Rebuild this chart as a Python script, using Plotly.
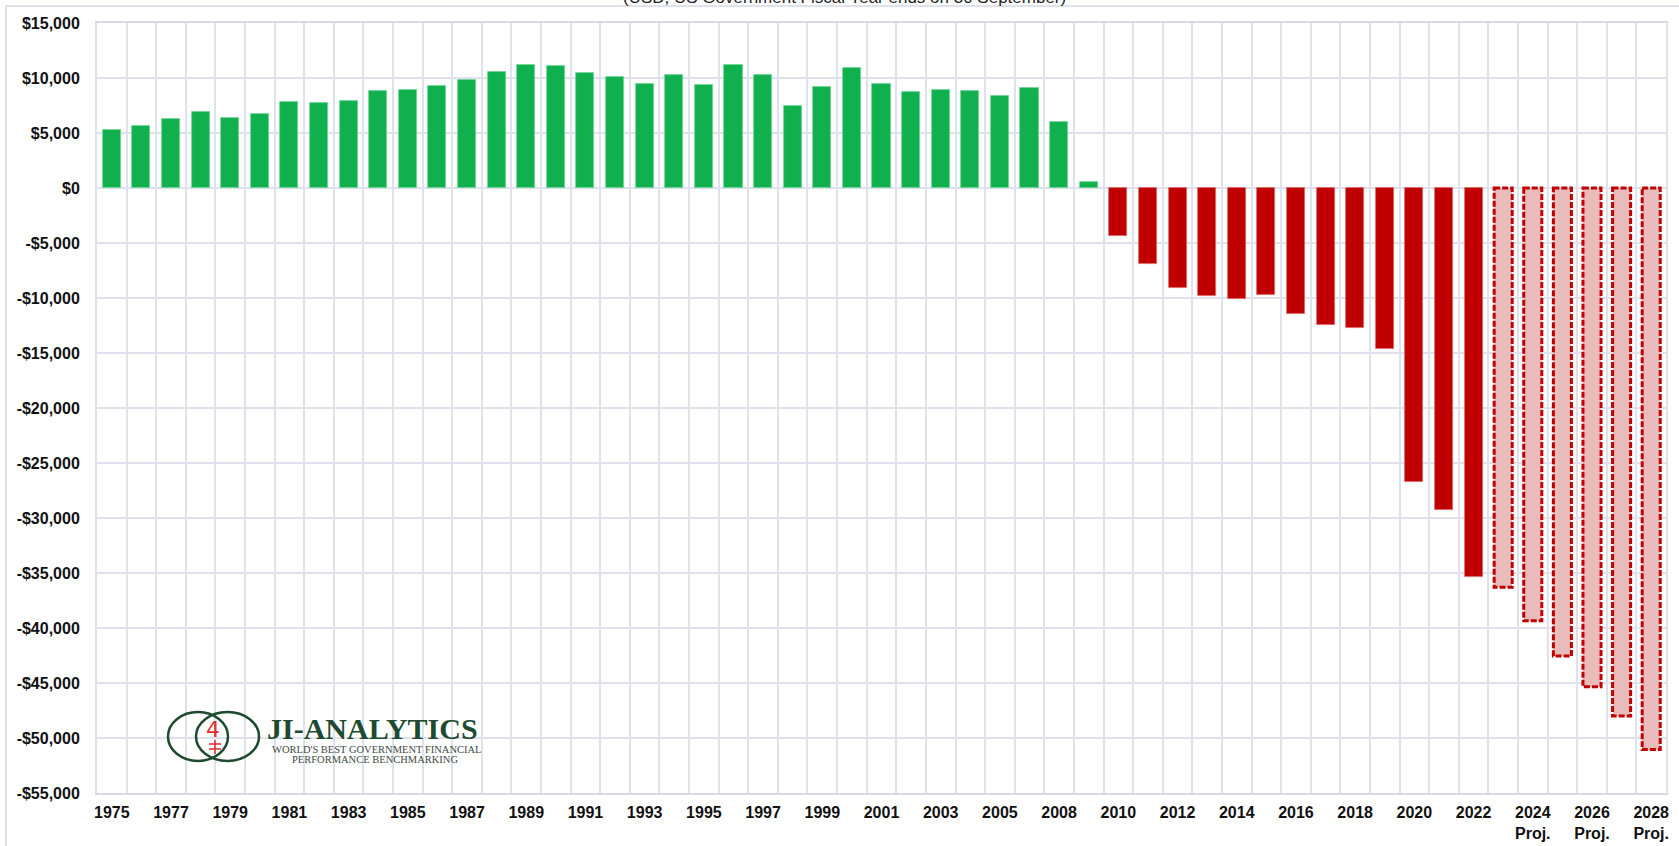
import plotly.graph_objects as go

# ---------------- data ----------------
actual_years = ["1975", "1976", "1977", "1978", "1979", "1980", "1981", "1982", "1983", "1984",
                "1985", "1986", "1987", "1988", "1989", "1990", "1991", "1992", "1993", "1994",
                "1995", "1996", "1997", "1998", "1999", "2000", "2001", "2002", "2003", "2004",
                "2005", "2006", "2008", "2009", "2010", "2011", "2012", "2013", "2014", "2015",
                "2016", "2017", "2018", "2019", "2020", "2021", "2022"]
actual_values = [5300, 5600, 6300, 6900, 6350, 6700, 7800, 7700, 7900, 8850,
                 8950, 9250, 9800, 10550, 11150, 11050, 10450, 10050, 9500, 10250,
                 9400, 11150, 10250, 7450, 9200, 10950, 9500, 8700, 8950, 8800,
                 8350, 9050, 6000, 550, -4400, -6950, -9100, -9800, -10050, -9750,
                 -11450, -12450, -12750, -14600, -26750, -29300, -35400]
proj_years = ["2023", "2024", "2025", "2026", "2027", "2028"]
proj_values = [-36300, -39350, -42550, -45350, -48000, -51050]
proj_suffix = "Proj."

title_text = "(USD, US Government Fiscal Year ends on 30 September)"
y_ticks = list(range(-55000, 15001, 5000))

GREEN = "#11B04E"
RED = "#C00000"
PINK = "#E9BBBB"
GRID = "#DFE2EC"
LOGO_GREEN = "#1E4A2F"

n_act = len(actual_years)
act_x = list(range(n_act))
proj_x = list(range(n_act, n_act + len(proj_years)))
all_labels = actual_years + [f"{y}<br>{proj_suffix}" for y in proj_years]
all_x = act_x + proj_x

BAR_W = 0.61

fig = go.Figure()
fig.add_trace(go.Bar(
    x=act_x, y=actual_values, width=BAR_W,
    marker=dict(color=[GREEN if v >= 0 else RED for v in actual_values],
                line=dict(color=["#6FD596" if v >= 0 else "#D86A6A" for v in actual_values], width=0.8)),
    hoverinfo="x+y", showlegend=False))
fig.add_trace(go.Bar(
    x=proj_x, y=proj_values, width=BAR_W,
    marker=dict(color=PINK, line=dict(width=0)),
    showlegend=False))

shapes = []
# dashed outlines for projected bars (derived from the data)
for xi, v in zip(proj_x, proj_values):
    shapes.append(dict(type="rect", xref="x", yref="y",
                       x0=xi - BAR_W / 2, x1=xi + BAR_W / 2, y0=0, y1=v,
                       line=dict(color=RED, width=3, dash="6px,2px"),
                       fillcolor="rgba(0,0,0,0)", layer="above"))

# pixel helpers for decorations
L, R, T, B = 97, 1666, 23, 793
def px(x):
    return (x - L) / (R - L)
def py(y):
    return (B - y) / (B - T)

# outer frame
shapes.append(dict(type="line", xref="paper", yref="paper", x0=px(6), x1=px(1690), y0=py(6), y1=py(6),
                   line=dict(color=GRID, width=2), layer="below"))
shapes.append(dict(type="line", xref="paper", yref="paper", x0=px(6), x1=px(6), y0=py(6), y1=py(860),
                   line=dict(color=GRID, width=2), layer="below"))

# logo ellipses
shapes.append(dict(type="circle", xref="paper", yref="paper", x0=px(168), x1=px(228), y0=py(712), y1=py(761),
                   line=dict(color=LOGO_GREEN, width=2.5), layer="above"))
shapes.append(dict(type="circle", xref="paper", yref="paper", x0=px(196), x1=px(259), y0=py(712), y1=py(761),
                   line=dict(color=LOGO_GREEN, width=2.5), layer="above"))
# red symbol stem + crossbars
shapes.append(dict(type="line", xref="paper", yref="paper", x0=px(215), x1=px(215), y0=py(740), y1=py(754),
                   line=dict(color="#E32B2B", width=1.5)))
for yy in (744, 749):
    shapes.append(dict(type="line", xref="paper", yref="paper", x0=px(209), x1=px(221), y0=py(yy), y1=py(yy),
                       line=dict(color="#E32B2B", width=1.5)))

annotations = [
    dict(text=title_text, xref="paper", yref="paper", x=px(844), y=1, xanchor="center", yanchor="bottom",
         yshift=14, showarrow=False, font=dict(family="Liberation Sans, Arial", size=17, color="#222")),
    dict(text="4", xref="paper", yref="paper", x=px(213), y=py(729), xanchor="center", yanchor="middle",
         showarrow=False, font=dict(family="DejaVu Sans, Liberation Sans", size=22, color="#E32B2B")),
    dict(text="<b>JI-ANALYTICS</b>", xref="paper", yref="paper", x=px(265), y=py(728), xanchor="left",
         yanchor="middle", showarrow=False,
         font=dict(family="Liberation Serif, Times New Roman", size=30, color=LOGO_GREEN)),
    dict(text="WORLD'S BEST GOVERNMENT FINANCIAL", xref="paper", yref="paper", x=px(376), y=py(749),
         xanchor="center", yanchor="middle", showarrow=False,
         font=dict(family="Liberation Serif, Times New Roman", size=10.5, color="#3E4A42")),
    dict(text="PERFORMANCE BENCHMARKING", xref="paper", yref="paper", x=px(375), y=py(759),
         xanchor="center", yanchor="middle", showarrow=False,
         font=dict(family="Liberation Serif, Times New Roman", size=10.5, color="#3E4A42")),
]

fig.update_layout(
    width=1679, height=846,
    margin=dict(l=L, r=1679 - R, t=T, b=846 - B, pad=0, autoexpand=False),
    paper_bgcolor="white", plot_bgcolor="white",
    bargap=0, barmode="overlay",
    shapes=shapes, annotations=annotations,
    font=dict(family="Liberation Sans, Arial", size=16, color="#111"),
    xaxis=dict(
        range=[-0.5, len(all_x) - 0.5], tickmode="array", automargin=False,
        tickvals=all_x[::2], ticktext=[f"<b>{t}</b>".replace("<br>", "</b><br><b>") for t in all_labels[::2]],
        showgrid=False, zeroline=False,
        minor=dict(showgrid=True, tick0=-0.5, dtick=1, gridcolor=GRID, gridwidth=2, ticks=""),
        showline=True, linecolor="#D6DAE6", linewidth=2, mirror=True,
        ticks="outside", ticklen=4, tickcolor="rgba(0,0,0,0)",
        tickfont=dict(family="Liberation Sans, Arial", size=16, color="#111"),
    ),
    yaxis=dict(
        range=[-55000, 15000], tickmode="array", tickvals=y_ticks, automargin=False,
        ticktext=[f"<b>{'-' if v < 0 else ''}${abs(v):,}</b>" for v in y_ticks],
        showgrid=True, gridcolor=GRID, gridwidth=2, zeroline=False,
        showline=True, linecolor=GRID, linewidth=2, mirror=True,
        ticks="outside", ticklen=12, tickcolor="rgba(0,0,0,0)",
        tickfont=dict(family="Liberation Sans, Arial", size=16, color="#111"),
    ),
)

fig.write_html("out.html", config={"displayModeBar": False},
               post_script="document.body.style.margin='0';document.body.style.overflow='hidden';")
